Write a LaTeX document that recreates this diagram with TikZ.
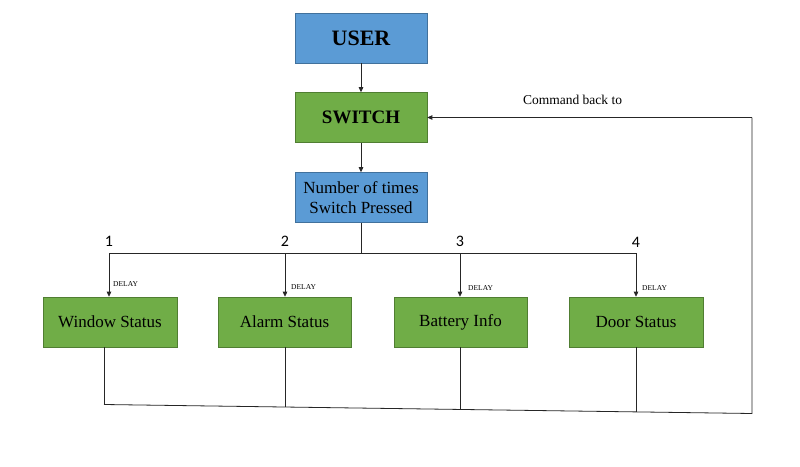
\documentclass[tikz,border=0pt]{standalone}
\usepackage{fontspec}
\setmainfont{Liberation Serif}
\newfontfamily\calib{Carlito}
\usetikzlibrary{arrows.meta}
\definecolor{boxblue}{HTML}{5B9BD5}
\definecolor{boxblueline}{HTML}{41719C}
\definecolor{boxgreen}{HTML}{70AD47}
\definecolor{boxgreenline}{HTML}{507E32}
\tikzset{
  bluebox/.style={draw=boxblueline, line width=0.6pt, fill=boxblue, minimum width=132pt, minimum height=50pt, inner sep=0pt, align=center},
  greenbox/.style={draw=boxgreenline, line width=0.6pt, fill=boxgreen, minimum width=133pt, minimum height=50pt, inner sep=0pt, align=center},
  conn/.style={draw=black!85, line width=0.8pt},
  arr/.style={conn, -{Triangle[length=5pt,width=4.5pt]}},
  numlbl/.style={font=\calib\fontsize{16}{18}\selectfont, inner sep=0pt},
  delaylbl/.style={font=\fontsize{7.5}{8}\selectfont, inner sep=0pt, anchor=west}
}
\begin{document}
\begin{tikzpicture}[x=1pt,y=-1pt]
\useasboundingbox[fill=white] (0,0) rectangle (800,466);
% top column
\node[bluebox, font=\bfseries\fontsize{22}{24}\selectfont] (user) at (361,38) {USER};
\node[greenbox, minimum width=132pt, font=\bfseries\fontsize{19}{21}\selectfont] (sw) at (361,117.5) {SWITCH};
\node[bluebox, font=\fontsize{17}{20}\selectfont] (num) at (361,197.5) {Number of times\\Switch Pressed};
% status boxes
\node[greenbox, minimum width=134pt, font=\fontsize{17}{20}\selectfont] (win) at (110,322) {Window Status};
\node[greenbox, font=\fontsize{17}{20}\selectfont] (alarm) at (284.5,322) {Alarm Status};
\node[greenbox, font=\fontsize{17}{20}\selectfont] (bat) at (460.5,322) {Battery Info};
\node[greenbox, minimum width=134pt, font=\fontsize{17}{20}\selectfont] (door) at (636,322) {Door Status};
% branch coordinates
\coordinate (jc) at (361,253);
\coordinate (j1) at (109,253);
\coordinate (j2) at (285,253);
\coordinate (j3) at (460,253);
\coordinate (j4) at (636,253);
% arrows
\draw[arr] (user) -- (sw);
\draw[arr] (sw) -- (num);
\draw[conn] (num) -- (jc);
\draw[conn] (j1) -- (j4);
\draw[arr] (j1) -- (j1 |- win.north);
\draw[arr] (j2) -- (j2 |- alarm.north);
\draw[arr] (j3) -- (j3 |- bat.north);
\draw[arr] (j4) -- (j4 |- door.north);
% labels
\node[numlbl] (n1) at (109,241) {1};
\node[numlbl] (n2) at (285,241) {2};
\node[numlbl] (n3) at (460,241) {3};
\node[numlbl] (n4) at (636,242) {4};
\node[delaylbl] (d1) at (113,284.5) {DELAY};
\node[delaylbl] (d2) at (291,287.5) {DELAY};
\node[delaylbl] (d3) at (468,288) {DELAY};
\node[delaylbl] (d4) at (642,288) {DELAY};
% bottom feedback
\coordinate (b1) at (104,404.5);
\coordinate (b2) at (285,408);
\coordinate (b3) at (460,410);
\coordinate (b4) at (636,413);
\coordinate (br) at (752,413.5);
\coordinate (bt) at (752,117.5);
\draw[conn] (win.south -| b1) -- ([yshift=1pt]b1);
\draw[conn] (alarm.south -| b2) -- ([yshift=1pt]b2);
\draw[conn] (bat.south -| b3) -- ([yshift=1pt]b3);
\draw[conn] (door.south -| b4) -- ([yshift=1pt]b4);
\draw[conn] (b1) -- (br) -- (bt);
\draw[arr] (bt) -- (sw.east);
\node[font=\fontsize{13.5}{15}\selectfont, inner sep=0pt] (cmd) at (572.5,100) {Command back to};
\end{tikzpicture}
\end{document}
